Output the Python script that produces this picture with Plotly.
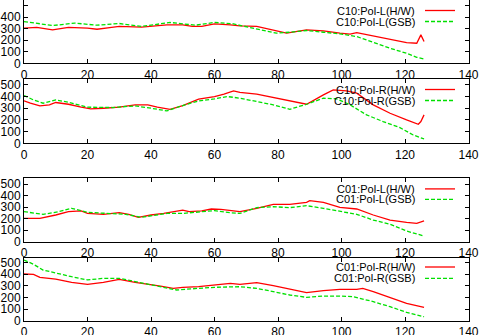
import plotly.graph_objects as go

# ---------------- data ----------------
# Panel 1: C10 Pol-L
p1_hw_x = [0, 4, 9, 14, 20, 23, 27, 30, 37, 40, 45, 50, 53, 56, 60, 65, 68, 73.3, 78.5, 82.7, 89, 94.3, 99.5, 102.7, 104.8, 110, 115.3, 120.5, 123.7, 125, 126]
p1_hw_y = [305, 312, 290, 312, 305, 296, 310, 320, 314, 320, 334, 334, 320, 320, 343, 334, 325, 320, 285, 262, 291, 282, 262, 253, 267, 238, 203, 180, 174, 247, 189]
p1_gsb_x = [0, 4, 9, 16, 23, 30, 37, 46, 50, 54, 60, 66, 68, 73.3, 79.5, 83.7, 89, 94.3, 99.5, 104.8, 110, 115.3, 120.5, 123.7, 126]
p1_gsb_y = [363, 345, 328, 349, 331, 346, 320, 355, 343, 331, 355, 343, 330, 297, 262, 270, 285, 270, 256, 232, 180, 131, 87, 52, 38]

# Panel 2: C10 Pol-R
p2_hw_x = [0, 2, 5, 8, 10, 14, 18, 21, 25, 30, 35, 39, 42, 46, 50, 55, 60, 63, 66, 68, 73.3, 78.5, 83.7, 89, 94.3, 97.4, 101.6, 104.8, 110, 115.3, 120.5, 124.2, 125, 126]
p2_hw_y = [363, 343, 320, 329, 349, 334, 309, 294, 300, 309, 329, 329, 309, 291, 323, 377, 400, 420, 449, 435, 420, 391, 357, 334, 414, 457, 449, 429, 329, 257, 200, 163, 186, 243]
p2_gsb_x = [0, 3, 6, 10, 14, 20, 28, 35, 40, 45, 50, 55, 60, 64, 68, 73.3, 78.5, 83.7, 89, 94.3, 98.5, 102.7, 107.9, 113.1, 118.4, 122.6, 126]
p2_gsb_y = [409, 371, 343, 371, 351, 309, 306, 320, 300, 277, 323, 363, 380, 400, 386, 357, 329, 291, 334, 386, 380, 329, 243, 186, 134, 71, 37]

# Panel 3: C01 Pol-L
p3_hw_x = [0, 5, 10, 14, 18, 20, 25, 30, 33, 36, 40, 44, 50, 52, 56, 59, 62, 66, 68, 73.3, 78.5, 83.7, 89, 90, 94.3, 99.5, 104.8, 110, 115.3, 120.5, 123.7, 126]
p3_hw_y = [203, 203, 232, 261, 267, 246, 238, 252, 238, 212, 232, 246, 275, 261, 267, 284, 281, 270, 261, 290, 325, 325, 342, 357, 342, 299, 284, 232, 188, 168, 159, 180]
p3_gsb_x = [0, 6, 11, 15, 20, 26, 32, 37, 40, 45, 50, 55, 60, 65, 68, 73.3, 78.5, 83.7, 89, 94.3, 99.5, 104.8, 110, 115.3, 120.5, 123.7, 126]
p3_gsb_y = [261, 238, 261, 290, 255, 246, 238, 212, 226, 246, 246, 261, 270, 252, 246, 296, 304, 296, 313, 290, 267, 238, 188, 151, 93, 64, 49]

# Panel 4: C01 Pol-R
p4_hw_x = [0, 3, 5, 10, 15, 20, 25, 30, 35, 40, 43, 47, 50, 55, 60, 65, 68, 73.3, 78.5, 83.7, 89, 94.3, 99.5, 104.8, 106.7, 110, 115.3, 120.5, 126]
p4_hw_y = [400, 397, 371, 357, 329, 311, 329, 354, 329, 311, 297, 277, 286, 291, 306, 320, 311, 326, 300, 271, 240, 257, 269, 269, 277, 249, 197, 149, 114]
p4_gsb_x = [0, 3, 6, 10, 15, 20, 25, 30, 35, 40, 45, 48, 55, 60, 68, 73.3, 78.5, 83.7, 89, 94.3, 99.5, 103.7, 110, 115.3, 120.5, 126]
p4_gsb_y = [520, 483, 434, 406, 377, 349, 363, 363, 334, 311, 277, 263, 277, 286, 291, 277, 249, 220, 200, 211, 211, 206, 163, 120, 71, 34]

names = [
    ("C10:Pol-L(H/W)", "C10:Pol-L(GSB)"),
    ("C10:Pol-R(H/W)", "C10:Pol-R(GSB)"),
    ("C01:Pol-L(H/W)", "C01:Pol-L(GSB)"),
    ("C01:Pol-R(H/W)", "C01:Pol-R(GSB)"),
]
series = [
    (p1_hw_x, p1_hw_y, p1_gsb_x, p1_gsb_y),
    (p2_hw_x, p2_hw_y, p2_gsb_x, p2_gsb_y),
    (p3_hw_x, p3_hw_y, p3_gsb_x, p3_gsb_y),
    (p4_hw_x, p4_hw_y, p4_gsb_x, p4_gsb_y),
]
x_ticks = [0, 20, 40, 60, 80, 100, 120, 140]
y_ticks = [0, 100, 200, 300, 400, 500]

# ---------------- layout ----------------
W, H = 479, 335
x_dom = [24 / W, 468.5 / W]
panel_pix = [(0.0, 63.3), (79.0, 143.3), (178.4, 241.7), (258.0, 320.7)]
legend_off = [(10.5, 21.5), (10.5, 21.5), (10.5, 21.0), (9.0, 20.3)]
y_ranges = [[0, 550], [0, 550], [0, 550], [0, 537]]

RED = "#ff0000"
GREEN = "#00e000"
FONT = dict(family="Liberation Sans, Arial, sans-serif", size=12, color="black")

fig = go.Figure()
layout = dict(
    template="none",
    width=W, height=H,
    margin=dict(l=0, r=0, t=0, b=0, pad=0),
    paper_bgcolor="white", plot_bgcolor="white",
    showlegend=False,
    font=FONT,
)

annotations = []
shapes = []
for i, ((hx, hy, gx, gy), (n_hw, n_gsb)) in enumerate(zip(series, names)):
    k = "" if i == 0 else str(i + 1)
    xa, ya = "x" + k, "y" + k
    fig.add_trace(go.Scatter(x=hx, y=hy, mode="lines", name=n_hw,
                             line=dict(color=RED, width=1.3), xaxis=xa, yaxis=ya))
    fig.add_trace(go.Scatter(x=gx, y=gy, mode="lines", name=n_gsb,
                             line=dict(color=GREEN, width=1.3, dash="4px,2px"),
                             xaxis=xa, yaxis=ya))
    top, bot = panel_pix[i]
    layout["xaxis" + k] = dict(
        domain=x_dom, range=[0, 140], tickvals=x_ticks, anchor=ya,
        showline=True, linecolor="black", linewidth=1,
        mirror=False if i == 0 else "ticks",
        ticks="inside", ticklen=4, tickcolor="black",
        showgrid=False, zeroline=False, tickfont=FONT, automargin=False,
    )
    layout["yaxis" + k] = dict(
        domain=[1 - bot / H, 1 - top / H], range=y_ranges[i], tickvals=y_ticks,
        anchor=xa, showline=True, linecolor="black", linewidth=1, mirror="ticks",
        ticks="inside", ticklen=4, tickcolor="black",
        showgrid=False, zeroline=False, tickfont=FONT, automargin=False,
    )
    ph = bot - top
    for j, (nm, col, dash) in enumerate([(n_hw, RED, "solid"), (n_gsb, GREEN, "4px,2px")]):
        yd = 1 - legend_off[i][j] / ph
        annotations.append(dict(
            text=nm, x=416.7 / W, y=yd, xref="paper", yref=ya + " domain",
            xanchor="right", yanchor="middle", showarrow=False,
            font=dict(family=FONT["family"], size=11, color="black"),
        ))
        shapes.append(dict(
            type="line", xref="paper", yref=ya + " domain",
            x0=425 / W, x1=455 / W, y0=yd, y1=yd,
            line=dict(color=col, width=1.3, dash=dash),
        ))

layout["annotations"] = annotations
layout["shapes"] = shapes
fig.update_layout(**layout)
fig.write_html(
    "out.html",
    config={"displayModeBar": False},
    post_script="document.body.style.margin='0';document.body.style.overflow='hidden';",
)
